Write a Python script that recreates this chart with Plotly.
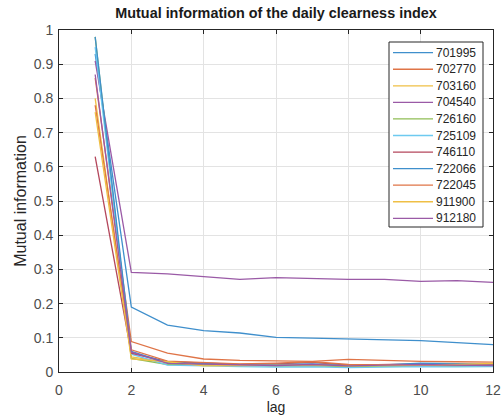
import plotly.graph_objects as go

lags = list(range(1, 13))

stations = ["701995", "702770", "703160", "704540", "726160", "725109",
            "746110", "722066", "722045", "911900", "912180"]

mi_701995 = [0.93, 0.190, 0.137, 0.121, 0.114, 0.101, 0.099, 0.096, 0.094, 0.092, 0.086, 0.080]
mi_702770 = [0.86, 0.089, 0.055, 0.038, 0.034, 0.033, 0.031, 0.037, 0.033, 0.031, 0.030, 0.029]
mi_703160 = [0.80, 0.044, 0.028, 0.022, 0.020, 0.019, 0.018, 0.017, 0.018, 0.018, 0.019, 0.018]
mi_704540 = [0.91, 0.291, 0.287, 0.279, 0.271, 0.276, 0.273, 0.271, 0.271, 0.265, 0.267, 0.262]
mi_726160 = [0.98, 0.040, 0.022, 0.020, 0.018, 0.017, 0.018, 0.016, 0.017, 0.018, 0.017, 0.017]
mi_725109 = [0.95, 0.052, 0.020, 0.019, 0.016, 0.014, 0.015, 0.013, 0.015, 0.016, 0.015, 0.016]
mi_746110 = [0.63, 0.055, 0.030, 0.027, 0.022, 0.024, 0.028, 0.020, 0.022, 0.024, 0.022, 0.021]
mi_722066 = [0.98, 0.060, 0.027, 0.025, 0.020, 0.021, 0.024, 0.019, 0.021, 0.026, 0.024, 0.023]
mi_722045 = [0.78, 0.065, 0.032, 0.028, 0.024, 0.026, 0.030, 0.022, 0.022, 0.020, 0.021, 0.020]
mi_911900 = [0.76, 0.038, 0.030, 0.018, 0.019, 0.020, 0.021, 0.018, 0.019, 0.020, 0.022, 0.025]
mi_912180 = [0.87, 0.058, 0.025, 0.023, 0.020, 0.019, 0.022, 0.018, 0.020, 0.022, 0.020, 0.019]

series = [mi_701995, mi_702770, mi_703160, mi_704540, mi_726160, mi_725109,
          mi_746110, mi_722066, mi_722045, mi_911900, mi_912180]

# default line colour order, cycling after seven entries
colors = ["#3f8fcc", "#df7447", "#efbf45", "#9a5aa6", "#8fbd55", "#6ecaf0",
          "#b4475c", "#3f8fcc", "#df7447", "#efbf45", "#9a5aa6"]

FONT = "Liberation Sans, Arial"
W, H = 502, 416
ML, MR, MT, MB = 59, 9, 30, 44
PW, PH = W - ML - MR, H - MT - MB


def px_x(p):
    """pixel column -> paper x"""
    return (p - ML) / PW


def px_y(p):
    """pixel row -> paper y"""
    return (H - MB - p) / PH


fig = go.Figure()
for name, vals, col in zip(stations, series, colors):
    fig.add_trace(go.Scatter(x=lags, y=vals, mode="lines", name=name,
                             showlegend=False,
                             line=dict(color=col, width=1.3)))

axis_common = dict(
    showline=True, linecolor="#262626", linewidth=1, mirror="ticks",
    ticks="inside", ticklen=4, tickcolor="#262626",
    showgrid=True, gridcolor="#e3e3e3", gridwidth=1,
    zeroline=False, automargin=False,
    tickfont=dict(family=FONT, size=14, color="#4d4d4d"),
)

# compact boxed legend in the upper right of the axes
shapes = [dict(type="rect", xref="paper", yref="paper",
               x0=px_x(389), x1=px_x(483), y0=px_y(227), y1=px_y(42),
               fillcolor="white", line=dict(color="#262626", width=1), layer="above")]
annotations = []
row0, row_step = 52.7, 16.56
for i, (name, col) in enumerate(zip(stations, colors)):
    ry = px_y(row0 + i * row_step)
    shapes.append(dict(type="line", xref="paper", yref="paper",
                       x0=px_x(393), x1=px_x(433), y0=ry, y1=ry,
                       line=dict(color=col, width=1.3), layer="above"))
    annotations.append(dict(text=name, xref="paper", yref="paper",
                            x=px_x(434), y=ry, xanchor="left", yanchor="middle",
                            showarrow=False,
                            font=dict(family=FONT, size=12, color="#262626")))

fig.update_layout(
    width=W, height=H,
    margin=dict(l=ML, r=MR, t=MT, b=MB, autoexpand=False),
    paper_bgcolor="white", plot_bgcolor="white",
    title=dict(text="<b>Mutual information of the daily clearness index</b>",
               x=(ML + PW / 2) / W, xanchor="center", y=1 - 13 / H, yanchor="middle",
               font=dict(family=FONT, size=14.4, color="#1a1a1a")),
    xaxis=dict(range=[0, 12], tickmode="array", tickvals=[0, 2, 4, 6, 8, 10, 12],
               ticklabelstandoff=5,
               title=dict(text="lag", standoff=5,
                          font=dict(family=FONT, size=14, color="#262626")),
               **axis_common),
    yaxis=dict(range=[0, 1], tickmode="array",
               tickvals=[0, 0.1, 0.2, 0.3, 0.4, 0.5, 0.6, 0.7, 0.8, 0.9, 1],
               ticktext=["0", "0.1", "0.2", "0.3", "0.4", "0.5", "0.6", "0.7", "0.8", "0.9", "1"],
               ticklabelstandoff=2,
               title=dict(text="Mutual information", standoff=3,
                          font=dict(family=FONT, size=16, color="#262626")),
               **axis_common),
    shapes=shapes,
    annotations=annotations,
    showlegend=False,
)

fig.write_html("out.html")
